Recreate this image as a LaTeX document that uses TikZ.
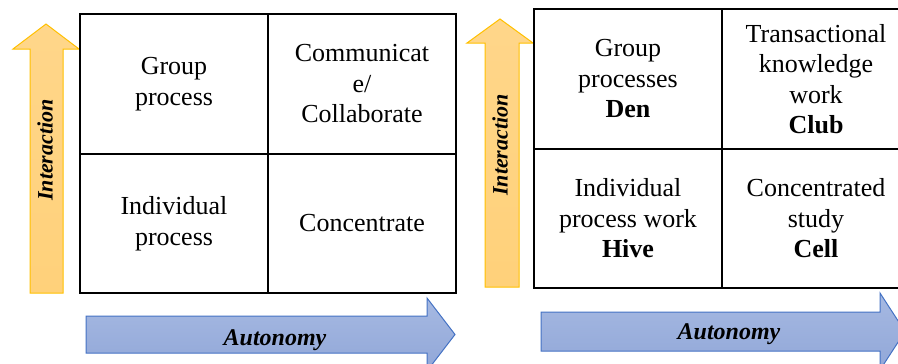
\documentclass[tikz,border=0pt]{standalone}
\usepackage{fontspec}
\setmainfont{Liberation Serif}
\usepackage{xcolor}
\usepackage{tikz}
\usetikzlibrary{positioning}

\definecolor{interTop}{HTML}{FFD68A}
\definecolor{interBot}{HTML}{FFD17A}
\definecolor{interLine}{HTML}{FFC000}
\definecolor{autoTop}{HTML}{A6B9E2}
\definecolor{autoBot}{HTML}{91A7D8}
\definecolor{autoLine}{HTML}{4472C4}

\begin{document}
\begin{tikzpicture}[x=1pt, y=-1pt,
    cell/.style={draw, line width=2pt, outer sep=0pt, minimum width=188pt, minimum height=139.5pt,
                 align=center, font=\fontsize{26}{30.5}\selectfont},
    uparrow/.style={draw=interLine, line width=1pt, top color=interTop, bottom color=interBot},
    rightarrow/.style={draw=autoLine, line width=1pt, top color=autoTop, bottom color=autoBot},
    axislabel/.style={font=\bfseries\itshape\fontsize{#1}{#1}\selectfont, inner sep=0pt}]
            \useasboundingbox (0,0) rectangle (898,364);
            \clip (0,0) rectangle (898,364);
            
            % block arrows
            \draw [uparrow] (30,293) -- (30,49) -- (13,49) -- (46,24) -- (79,49) -- (63,49) -- (63,293) -- cycle;
            \draw [uparrow] (485,287) -- (485,43) -- (467,43) -- (500,19) -- (533,43) -- (519,43) -- (519,287) -- cycle;
            \draw [rightarrow] (86,316) -- (427,316) -- (427,298) -- (455,334.5) -- (427,371) -- (427,353) -- (86,353) -- cycle;
            \draw [rightarrow] (541,312) -- (880,312) -- (880,293) -- (905,331.5) -- (880,370) -- (880,351) -- (541,351) -- cycle;
            
            \node (InterL) at (45,150) [rotate=90, axislabel=22] {Interaction};
            \node (InterR) at (500,145) [rotate=90, axislabel=22] {Interaction};
            \node (AutoL) at (275,340) [axislabel=24] {Autonomy};
            \node (AutoR) at (729,334) [axislabel=24] {Autonomy};
            
            % left grid
            \node (GroupL) at (174,84) [cell] {Group\\process};
            \node (CommL) [cell, right=0pt of GroupL] {Communicat\\e/\\Collaborate};
            \node (IndivL) [cell, below=0pt of GroupL] {Individual\\process};
            \node (ConcL) [cell, right=0pt of IndivL] {Concentrate};
            
            % right grid
            \node (Den) at (628,79) [cell] {Group\\processes\\\textbf{Den}};
            \node (Club) [cell, right=0pt of Den] {Transactional\\knowledge\\work\\\textbf{Club}};
            \node (Hive) [cell, below=0pt of Den] {Individual\\process work\\\textbf{Hive}};
            \node (Cell) [cell, right=0pt of Hive] {Concentrated\\study\\\textbf{Cell}};
        \end{tikzpicture}
\end{document}
